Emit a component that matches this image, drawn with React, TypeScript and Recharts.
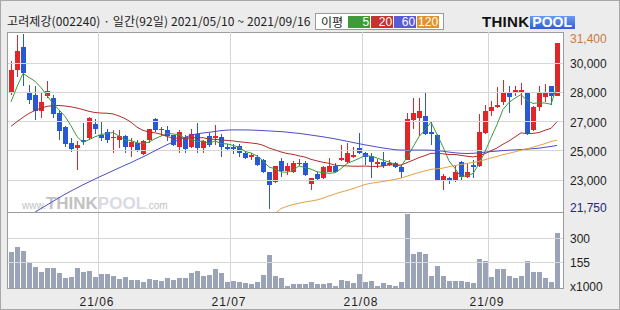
import React from "react";
import { Bar, ComposedChart, Line, ReferenceLine, XAxis, YAxis } from "recharts";

// trading days shown, 2021/05/10 ~ 2021/09/16 (92 sessions)
const mayDays = [10, 11, 12, 13, 14, 17, 18, 20, 21, 24, 25, 26, 27, 28, 31];
const junDays = [1, 2, 3, 4, 7, 8, 9, 10, 11, 14, 15, 16, 17, 18, 21, 22, 23, 24, 25, 28, 29, 30];
const julDays = [1, 2, 5, 6, 7, 8, 9, 12, 13, 14, 15, 16, 19, 20, 21, 22, 23, 26, 27, 28, 29, 30];
const augDays = [2, 3, 4, 5, 6, 9, 10, 11, 12, 13, 17, 18, 19, 20, 23, 24, 25, 26, 27, 30, 31];
const sepDays = [1, 2, 3, 6, 7, 8, 9, 10, 13, 14, 15, 16];

const opens = [
  28550, 29850, 31200, 28550, 28400, 27450, 28350, 28200, 27350, 26550,
  25600, 25300, 25800, 25900, 26700, 26100, 26250, 25900, 25800, 26000,
  25350, 25600, 24950, 25800, 27000, 26350, 26350, 26050, 25350, 25950,
  25350, 26150, 25300, 26000, 25900, 25950, 25350, 25400, 25450, 25050,
  24800, 24800, 24600, 23900, 23350, 24550, 24000, 23950, 24400, 24450,
  23250, 23800, 23550, 23950, 24250, 24600, 24500, 24800, 25300, 25050,
  24850, 24400, 24500, 24350, 24450, 24200, 24650, 26950, 27050, 27200,
  26250, 26050, 23450, 23550, 23400, 24500, 23650, 24350, 24250, 26200,
  27450, 27700, 28000, 28550, 28550, 28600, 28550, 26350, 27700, 28300,
  28900, 28350,
];
const highs = [
  30350, 31900, 31950, 29000, 28950, 28500, 29200, 28400, 27500, 26600,
  25900, 25700, 26800, 27100, 27000, 26900, 26400, 26350, 26350, 26050,
  25900, 25800, 25800, 26450, 27050, 26550, 26600, 26100, 26350, 26050,
  26450, 26800, 25800, 26200, 26650, 26150, 25550, 25550, 25550, 25150,
  25050, 24900, 24700, 23950, 24300, 24750, 24450, 24550, 24700, 24550,
  23600, 23900, 24250, 24750, 24450, 25500, 25600, 25400, 26200, 25100,
  25000, 24700, 25100, 24600, 24500, 24300, 27350, 28200, 28200, 28600,
  26900, 26150, 23800, 23650, 24350, 24550, 24450, 24600, 27300, 27800,
  28050, 28850, 29250, 28900, 28900, 29100, 28600, 27750, 28900, 29050,
  28950, 31400,
];
const lows = [
  28400, 29450, 28900, 27850, 26950, 27050, 28200, 27050, 25800, 25400,
  25100, 24050, 25500, 25800, 26150, 25700, 25600, 25000, 25300, 25050,
  24800, 25100, 24900, 25600, 26250, 26000, 25700, 25450, 25000, 25050,
  25300, 25050, 25000, 25400, 25500, 24800, 25150, 24950, 24800, 24700,
  24650, 24300, 23850, 21750, 23300, 23650, 23750, 23850, 24250, 23700,
  22900, 23400, 23500, 23900, 23850, 24550, 24450, 24750, 24950, 24350,
  23600, 24150, 24150, 24300, 24150, 23550, 24600, 26450, 26000, 26100,
  25500, 23400, 22900, 23250, 23350, 23400, 23600, 23600, 24200, 26150,
  27150, 27650, 27800, 27350, 28350, 27800, 26100, 26300, 27450, 28000,
  27800, 28350,
];
const closes = [
  29850, 30950, 29650, 28100, 27450, 28000, 28650, 27300, 26300, 25550,
  25250, 25500, 25650, 27050, 26400, 25900, 25800, 25950, 26000, 25350,
  25650, 25150, 25750, 26400, 26350, 26400, 26000, 25500, 26250, 25250,
  26150, 25300, 25700, 25500, 26000, 25350, 25250, 25250, 25000, 24750,
  24900, 24350, 23900, 23150, 24250, 24000, 24250, 24450, 24450, 23750,
  23550, 23500, 24200, 24250, 23900, 24750, 25000, 24900, 25000, 24800,
  24500, 24500, 24250, 24450, 24200, 23900, 27000, 27350, 27450, 26150,
  26150, 23450, 23700, 23400, 23950, 23650, 23950, 24200, 26250, 27450,
  27700, 27800, 28600, 28300, 28700, 28700, 26150, 27700, 28500, 28600,
  28350, 31400,
];
// volume, thousands of shares
const volumes = [
  217, 247, 221, 156, 130, 95, 124, 124, 93, 61,
  65, 124, 95, 105, 65, 85, 83, 75, 55, 65,
  51, 47, 39, 55, 51, 41, 59, 47, 63, 61,
  89, 105, 71, 79, 114, 89, 34, 41, 34, 30,
  22, 34, 81, 197, 75, 59, 14, 26, 26, 26,
  39, 24, 24, 32, 14, 51, 45, 32, 87, 34,
  45, 14, 28, 18, 14, 39, 445, 203, 215, 203,
  75, 136, 75, 41, 45, 45, 39, 32, 174, 166,
  69, 114, 114, 75, 63, 75, 162, 99, 99, 63,
  39, 332,
];

// moving averages as drawn on the chart
const ma5 = [
  28000, 28880, 29650, 29420, 29200, 28830, 28370, 27900, 27540, 27160,
  26610, 25980, 25650, 25800, 25970, 26100, 26160, 26220, 26010, 25800,
  25750, 25620, 25580, 25660, 25860, 26010, 26180, 26130, 26100, 25880,
  25830, 25690, 25730, 25580, 25730, 25570, 25560, 25470, 25370, 25120,
  25030, 24850, 24580, 24210, 24110, 23930, 23910, 24020, 24280, 24180,
  24090, 23940, 23890, 23850, 23880, 24120, 24420, 24560, 24710, 24890,
  24840, 24740, 24610, 24500, 24380, 24260, 24760, 25380, 25980, 26370,
  26820, 26110, 25380, 24570, 24130, 23630, 23730, 23830, 24400, 25100,
  25910, 26680, 27560, 27970, 28220, 28420, 28090, 27910, 27950, 27930,
  27860, 28910,
];
const ma20 = [
  26580, 26850, 27100, 27330, 27500, 27640, 27740, 27780, 27790, 27760,
  27710, 27640, 27550, 27450, 27380, 27350, 27340, 27300, 27180, 27030,
  26820, 26530, 26340, 26250, 26200, 26120, 25990, 25900, 25890, 25880,
  25920, 25910, 25920, 25840, 25820, 25790, 25760, 25730, 25680, 25650,
  25610, 25570, 25480, 25320, 25210, 25090, 25000, 24950, 24860, 24790,
  24660, 24570, 24490, 24430, 24320, 24290, 24280, 24260, 24260, 24270,
  24250, 24250, 24270, 24340, 24330, 24330, 24470, 24610, 24760, 24880,
  25010, 25010, 24980, 24940, 24940, 24890, 24840, 24800, 24860, 25000,
  25160, 25320, 25540, 25730, 25960, 26200, 26150, 26170, 26220, 26350,
  26460, 26850,
];
const ma60 = [
  null, null, null, null, 21590, 21800, 22010, 22220, 22430, 22630,
  22820, 23000, 23180, 23350, 23520, 23680, 23840, 24000, 24160, 24320,
  24470, 24640, 24800, 24980, 25160, 25340, 25510, 25660, 25800, 25940,
  26060, 26140, 26190, 26230, 26280, 26330, 26360, 26370, 26370, 26370,
  26360, 26350, 26330, 26310, 26290, 26270, 26240, 26200, 26170, 26120,
  26070, 26020, 25970, 25910, 25850, 25780, 25710, 25640, 25570, 25500,
  25440, 25380, 25320, 25270, 25220, 25200, 25200, 25200, 25200, 25200,
  25190, 25170, 25130, 25080, 25040, 25010, 25000, 25010, 25040, 25080,
  25110, 25140, 25170, 25190, 25210, 25230, 25250, 25280, 25310, 25360,
  25410, 25470,
];
const ma120 = [
  null, null, null, null, null, null, null, null, null, null,
  null, null, null, null, null, null, null, null, null, null,
  null, null, null, null, null, null, null, null, null, null,
  null, null, null, null, null, null, null, null, null, null,
  null, null, null, null, 21500, 21800, 21930, 22030, 22110, 22180,
  22240, 22300, 22400, 22530, 22650, 22760, 22850, 22960, 23080, 23200,
  23270, 23320, 23370, 23430, 23500, 23570, 23680, 23790, 23890, 23990,
  24080, 24110, 24150, 24230, 24300, 24360, 24420, 24480, 24550, 24640,
  24740, 24830, 24930, 25010, 25100, 25190, 25280, 25360, 25470, 25570,
  25700, 25770,
];

const monthLabels = ["21/06", "21/07", "21/08", "21/09"];
const priceGridTicks = [30250, 28550, 26850, 25150, 23450];
const priceGridLabels = ["30,000", "28,000", "27,000", "25,000", "23,000"];
const volGridTicks = [300, 155];
const volGridLabels = ["300", "155"];

const maKeys = ["ma5", "ma20", "ma60", "ma120"];
const maPeriods = ["5", "20", "60", "120"];
const maLineColors = ["#3c9a3c", "#b02e2a", "#4c4cc8", "#e4a04c"];
const maBoxColors = ["#3f9a3a", "#c4342e", "#5a5ad6", "#e0922c"];

const UP = "#e02626";
const DOWN = "#2858d4";
const GRID = "#d6d6d6";
const FRAME = "#9c9c9c";
const VOL = "#9aa3b8";
const AXIS_FONT = "'Liberation Sans', Arial, sans-serif";
const KR_FONT = "'Noto Sans CJK KR', sans-serif";

const pad = (d: number) => (d < 10 ? "0" + d : String(d));
const dates = [
  ...mayDays.map((d) => `2021/05/${pad(d)}`),
  ...junDays.map((d) => `2021/06/${pad(d)}`),
  ...julDays.map((d) => `2021/07/${pad(d)}`),
  ...augDays.map((d) => `2021/08/${pad(d)}`),
  ...sepDays.map((d) => `2021/09/${pad(d)}`),
];
const monthTicks = [junDays, julDays, augDays, sepDays].map(
  (days, i) => `2021/${pad(i + 6)}/${pad(days[0])}`
);

const rows = dates.map((date, i) => ({
  date,
  open: opens[i],
  high: highs[i],
  low: lows[i],
  close: closes[i],
  range: [lows[i], highs[i]],
  vol: volumes[i],
  ma5: ma5[i],
  ma20: ma20[i],
  ma60: ma60[i],
  ma120: ma120[i],
}));

const lastClose = closes[closes.length - 1];
const periodLow = Math.min(...lows);
const fmt = (v: number) => v.toLocaleString("en-US");

function Candle(props: any) {
  const { x, y, width, height, payload } = props;
  if (x == null || !payload) return null;
  const { open, close, high, low } = payload;
  const color = close >= open ? UP : DOWN;
  const ratio = high > low ? height / (high - low) : 0;
  const yOf = (v: number) => y + (high - v) * ratio;
  const cx = Math.round(x + width / 2 - 0.5);
  const top = Math.round(yOf(Math.max(open, close)));
  const bot = Math.round(yOf(Math.min(open, close)));
  const wTop = Math.round(y);
  const wBot = Math.round(y + height);
  return (
    <g shapeRendering="crispEdges">
      <rect x={cx} y={wTop} width={1} height={Math.max(1, wBot - wTop)} fill={color} />
      <rect x={cx - 2} y={top} width={5} height={Math.max(1, bot - top)} fill={color} />
    </g>
  );
}

function VolBar(props: any) {
  const { x, y, height } = props;
  if (x == null || !height) return null;
  const t = Math.round(y);
  const b = Math.round(y + height);
  return <rect x={Math.round(x)} y={t} width={5} height={Math.max(1, b - t)} fill={VOL} shapeRendering="crispEdges" />;
}

const gridLine = (p: any) => (
  <line x1={p.x1} y1={p.y1} x2={p.x2} y2={p.y2} stroke={GRID} strokeWidth={1} shapeRendering="crispEdges" />
);

function PriceTick(props: any) {
  const { x, y, payload } = props;
  const v = payload.value as number;
  const gi = priceGridTicks.indexOf(v);
  let label = gi >= 0 ? priceGridLabels[gi] : fmt(v);
  let fill = "#1e1e1e";
  let dy = 5;
  if (v === lastClose) {
    fill = "#c87a3c";
    dy = -0.5;
  } else if (v === periodLow) {
    fill = "#24247e";
    dy = 3;
  }
  return (
    <text x={x - 1} y={y + dy} fill={fill} fontSize={12} fontFamily={AXIS_FONT} textAnchor="start">
      {label}
    </text>
  );
}

function VolTick(props: any) {
  const { x, y, payload } = props;
  const v = payload.value as number;
  const gi = volGridTicks.indexOf(v);
  const label = gi >= 0 ? volGridLabels[gi] : "x1000";
  return (
    <text x={x - 1} y={y + (gi >= 0 ? 5 : 2.5)} fill="#1e1e1e" fontSize={12} fontFamily={AXIS_FONT} textAnchor="start">
      {label}
    </text>
  );
}

function MonthTick(props: any) {
  const { x, y, payload } = props;
  const i = monthTicks.indexOf(payload.value);
  return (
    <text x={x - 4} y={y + 10} fill="#1e1e1e" fontSize={12} fontFamily={AXIS_FONT} textAnchor="middle" letterSpacing={1}>
      {monthLabels[i]}
    </text>
  );
}

export default function App() {
  return (
    <div
      style={{
        position: "absolute",
        left: 0,
        top: 0,
        width: 620,
        height: 310,
        boxSizing: "border-box",
        background: "#ececec",
        border: "1px solid #a8a8a8",
        overflow: "hidden",
      }}
    >
      {/* title */}
      <div style={{ position: "absolute", left: 6, top: 12, fontFamily: KR_FONT, fontSize: 12, lineHeight: "16px", color: "#222", whiteSpace: "nowrap", letterSpacing: 0.1 }}>
        고려제강(002240) · 일간(92일) 2021/05/10 ~ 2021/09/16
      </div>

      {/* moving average legend */}
      <div
        style={{
          position: "absolute",
          left: 314,
          top: 12,
          height: 17,
          boxSizing: "border-box",
          border: "1px solid #9a9a9a",
          background: "#fff",
          display: "flex",
          alignItems: "center",
          paddingLeft: 5,
          paddingRight: 3,
          fontFamily: KR_FONT,
          fontSize: 12,
        }}
      >
        <span style={{ color: "#222", marginRight: 5, lineHeight: "15px" }}>이평</span>
        {maPeriods.map((p, i) => (
          <span
            key={p}
            style={{
              background: maBoxColors[i],
              color: "#fff",
              width: 22,
              height: 12,
              lineHeight: "12px",
              textAlign: "right",
              fontFamily: AXIS_FONT,
              fontSize: 12,
              paddingRight: 1,
              boxSizing: "border-box",
              marginRight: 1,
            }}
          >
            {p}
          </span>
        ))}
      </div>

      {/* logo */}
      <div style={{ position: "absolute", left: 481, top: 14, display: "flex", alignItems: "center", fontFamily: AXIS_FONT, fontWeight: "bold" }}>
        <span style={{ fontSize: 15, letterSpacing: 0.3, color: "#111", lineHeight: "14px" }}>THINK</span>
        <span
          style={{
            fontSize: 14,
            color: "#fff",
            background: "linear-gradient(#6a9af2, #2f5fcf)",
            lineHeight: "13px",
            padding: "0 3px 0 2px",
            marginLeft: 1,
          }}
        >
          POOL
        </span>
      </div>

      {/* plot frame */}
      <div
        style={{
          position: "absolute",
          left: 6,
          top: 31,
          width: 557,
          height: 257,
          boxSizing: "border-box",
          border: `1px solid ${FRAME}`,
          background: "#fff",
        }}
      />
      <div style={{ position: "absolute", left: 6, top: 211, width: 557, height: 1, background: FRAME }} />

      {/* watermark */}
      <div
        style={{
          position: "absolute",
          left: 21,
          top: 193,
          fontFamily: AXIS_FONT,
          color: "#c2c2c2",
          whiteSpace: "nowrap",
          display: "flex",
          alignItems: "baseline",
        }}
      >
        <span style={{ fontSize: 10 }}>www.</span>
        <span style={{ fontSize: 17, fontWeight: "bold" }}>THINK</span>
        <span style={{ fontSize: 17, fontWeight: "bold", color: "#dadae2" }}>POOL</span>
        <span style={{ fontSize: 10 }}>.com</span>
      </div>

      {/* price panel */}
      <div style={{ position: "absolute", left: -1, top: -1 }}>
        <ComposedChart width={620} height={219} data={rows} margin={{ top: 32, right: 0, bottom: 7, left: 8 }}>
          <XAxis dataKey="date" hide padding={{ left: 0, right: 3 }} />
          <YAxis
            orientation="right"
            width={57}
            domain={[21600, 32060]}
            allowDataOverflow
            ticks={[lastClose, ...priceGridTicks, periodLow]}
            interval={0}
            tick={<PriceTick />}
            axisLine={false}
            tickLine={false}
          />
          {priceGridTicks.map((v) => (
            <ReferenceLine key={v} y={v} shape={gridLine} />
          ))}
          {monthTicks.map((d) => (
            <ReferenceLine key={d} x={d} position="start" shape={gridLine} />
          ))}
          <Bar dataKey="range" barSize={5} shape={<Candle />} isAnimationActive={false} />
          {maKeys.map((k, i) => (
            <Line
              key={k}
              dataKey={k}
              type="linear"
              stroke={maLineColors[i]}
              strokeWidth={1}
              dot={false}
              activeDot={false}
              isAnimationActive={false}
            />
          ))}
        </ComposedChart>
      </div>

      {/* volume panel */}
      <div style={{ position: "absolute", left: -1, top: 211 }}>
        <ComposedChart width={620} height={98} data={rows} margin={{ top: 1, right: 0, bottom: 0, left: 8 }}>
          <XAxis
            dataKey="date"
            padding={{ left: 0, right: 3 }}
            ticks={monthTicks}
            interval={0}
            tick={<MonthTick />}
            axisLine={false}
            tickLine={false}
            height={22}
          />
          <YAxis
            orientation="right"
            width={57}
            domain={[0, 454]}
            allowDataOverflow
            ticks={[0, ...volGridTicks]}
            interval={0}
            tick={<VolTick />}
            axisLine={false}
            tickLine={false}
          />
          {volGridTicks.map((v) => (
            <ReferenceLine key={v} y={v} shape={gridLine} />
          ))}
          {monthTicks.map((d) => (
            <ReferenceLine key={d} x={d} position="start" shape={gridLine} />
          ))}
          <Bar dataKey="vol" barSize={5} shape={<VolBar />} isAnimationActive={false} />
        </ComposedChart>
      </div>
    </div>
  );
}
